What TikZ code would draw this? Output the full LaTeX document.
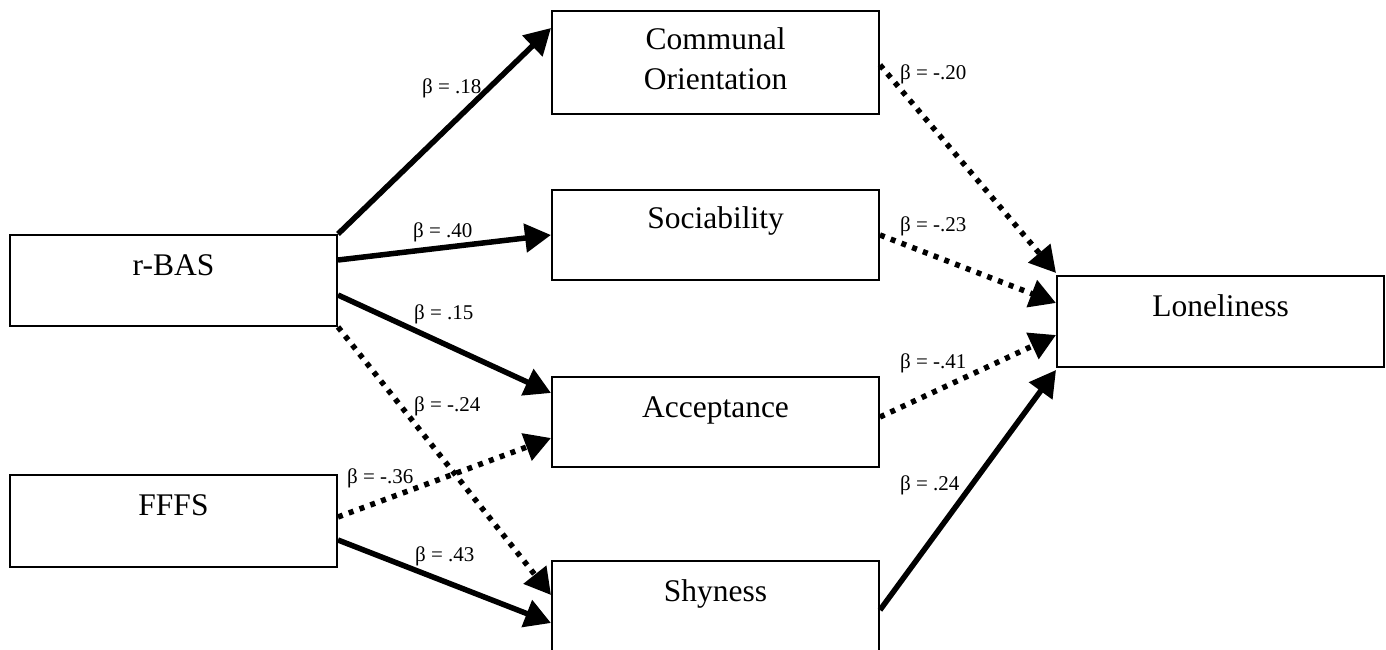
\documentclass[tikz,border=0pt]{standalone}
\usepackage{fontspec}
\setmainfont{Liberation Serif}
\usetikzlibrary{arrows.meta,calc}
\begin{document}
\begin{tikzpicture}[x=1pt,y=-1pt,
  box/.style={draw, line width=2pt, minimum width=327pt, inner sep=0pt,
    text height=40pt, anchor=north west, font=\fontsize{31.5}{40}\selectfont},
  coef/.style={inner sep=0pt, anchor=base west, font=\fontsize{21}{25}\selectfont},
  tip/.style={-{Triangle[length=26pt,width=28pt]}},
  solidarr/.style={tip, line width=5.5pt},
  dotarr/.style={tip, line width=5.5pt, dash pattern=on 5pt off 6.5pt}]
\useasboundingbox (0,0) rectangle (1386,650);
% boxes
\node[box, text depth=51pt] (rbas) at (9,234) {r-BAS};
\node[box, text depth=52pt] (fffs) at (9,474) {FFFS};
\node[box, text height=39pt, text depth=64pt] (comm) at (551,10)
  {\begin{tabular}[t]{@{}c@{}}Communal\\Orientation\end{tabular}};
\node[box, text height=38pt, text depth=52pt] (soc) at (551,189) {Sociability};
\node[box, text depth=50pt] (acc) at (551,376) {Acceptance};
\node[box, text depth=54pt] (shy) at (551,560) {Shyness};
\node[box, text depth=51pt] (lone) at (1056,275) {Loneliness};
% connectors
\draw[solidarr] (rbas.north east) -- ([yshift=-18pt]comm.north west);
\draw[solidarr] ([yshift=-26pt]rbas.north east) -- (soc.west);
\draw[solidarr] ([yshift=-61pt]rbas.north east) -- ([yshift=-17pt]acc.north west);
\draw[dotarr] (rbas.south east) -- ([yshift=-35pt]shy.north west);
\draw[dotarr] ([yshift=-43pt]fffs.north east) -- ([yshift=-62pt]acc.north west);
\draw[solidarr] ([yshift=-66pt]fffs.north east) -- ([yshift=-63pt]shy.north west);
\draw[dotarr] ([yshift=-55pt]comm.north east) -- ([yshift=2pt]lone.north west);
\draw[dotarr] (soc.east) -- ([yshift=-28pt]lone.north west);
\draw[dotarr] ([yshift=-41pt]acc.north east) -- ([yshift=-60pt]lone.north west);
\draw[solidarr] ([yshift=-50pt]shy.north east) -- ([yshift=-2pt]lone.south west);
% coefficients
\node[coef] (c1) at (422,94) {β = .18};
\node[coef] (c2) at (413,237) {β = .40};
\node[coef] (c3) at (414,319) {β = .15};
\node[coef] (c4) at (414,411) {β = -.24};
\node[coef] (c5) at (347,483) {β = -.36};
\node[coef] (c6) at (415,561) {β = .43};
\node[coef] (c7) at (900,80) {β = -.20};
\node[coef] (c8) at (900,231) {β = -.23};
\node[coef] (c9) at (900,368) {β = -.41};
\node[coef] (c10) at (900,490) {β = .24};
\end{tikzpicture}
\end{document}
